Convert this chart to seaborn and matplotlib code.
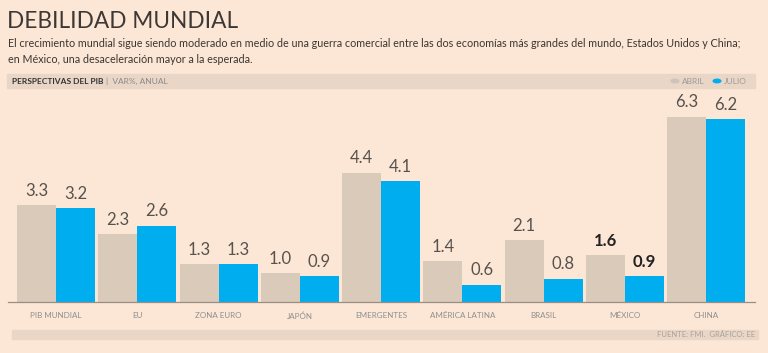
import pandas as pd
import matplotlib.pyplot as plt
import seaborn as sns

# GDP outlook data (var %, annual)
regiones = ['PIB MUNDIAL', 'EU', 'ZONA EURO', 'JAPÓN', 'EMERGENTES',
            'AMÉRICA LATINA', 'BRASIL', 'MÉXICO', 'CHINA']
abril = [3.3, 2.3, 1.3, 1.0, 4.4, 1.4, 2.1, 1.6, 6.3]
julio = [3.2, 2.6, 1.3, 0.9, 4.1, 0.6, 0.8, 0.9, 6.2]
series = ['ABRIL', 'JULIO']

BG = '#FCE7D6'
C_ABRIL = '#D9CABA'
C_JULIO = '#00ADEF'
BAND = '#EAD6C6'
FONT = ['Lato', 'DejaVu Sans']


def build_df():
    df = pd.DataFrame({'region': regiones * 2,
                       'serie': ['ABRIL'] * len(abril) + ['JULIO'] * len(julio),
                       'valor': abril + julio})
    return df


def plot_chart(df):
    plt.rcParams['font.family'] = FONT
    fig = plt.figure(figsize=(7.68, 3.53), dpi=100, facecolor=BG)
    ax = fig.add_axes([8 / 768, 1 - 302.3 / 353, 747 / 768, 202 / 353])
    ax.set_facecolor(BG)

    sns.barplot(data=df, x='region', y='valor', hue='serie', order=regiones,
                hue_order=series, palette=[C_ABRIL, C_JULIO], width=0.96,
                gap=0, saturation=1, legend=False, ax=ax)

    # value labels above each bar
    for container, vals in zip(ax.containers, [abril, julio]):
        for bar, v, reg in zip(container, vals, regiones):
            bold = reg == 'MÉXICO'
            ax.annotate(f'{v:.1f}', (bar.get_x() + bar.get_width() / 2, bar.get_height()),
                        xytext=(0, 4.5), textcoords='offset points', ha='center', va='bottom',
                        fontsize=12, color='#222222' if bold else '#58524C',
                        fontweight='bold' if bold else 'normal')

    ax.set_xlim(-0.59, 8.6)
    ax.set_ylim(0, 6.85)
    ax.set_xlabel('')
    ax.set_ylabel('')
    ax.set_yticks([])
    ax.tick_params(axis='x', length=0, pad=7, labelsize=5.8, labelcolor='#8E8E8E')
    for s in ['top', 'right', 'left']:
        ax.spines[s].set_visible(False)
    ax.spines['bottom'].set_color('#9A8E84')
    ax.spines['bottom'].set_linewidth(0.9)

    # title and subtitle
    fig.text(7 / 768, 1 - 11.5 / 353, 'DEBILIDAD MUNDIAL', fontsize=16.3, fontweight='normal',
             color='#3E3835', va='top', ha='left')
    fig.text(8 / 768, 1 - 38 / 353,
             'El crecimiento mundial sigue siendo moderado en medio de una guerra comercial entre '
             'las dos economías más grandes del mundo, Estados Unidos y China;\n'
             'en México, una desaceleración mayor a la esperada.',
             fontsize=7.75, color='#3A3532', va='top', ha='left', linespacing=1.55)

    # header band
    fig.patches.append(plt.Rectangle((7 / 768, 1 - 88 / 353), 748 / 768, 14 / 353,
                                     transform=fig.transFigure, color=BAND, zorder=0))
    t = fig.text(12 / 768, 1 - 81 / 353, 'PERSPECTIVAS DEL PIB', fontsize=6, fontweight='bold',
                 color='#333333', va='center', ha='left')
    fig.canvas.draw()
    bb = t.get_window_extent()
    fig.text((bb.x1 + 3) / 768, 1 - 81 / 353, '|  VAR%, ANUAL', fontsize=6, color='#8A8A8A',
             va='center', ha='left')

    # legend
    for xc, lab, col in [(675, 'ABRIL', '#CFC3B8'), (717, 'JULIO', C_JULIO)]:
        fig.patches.append(plt.Circle((xc / 768, 1 - 81 / 353), 3.8 / 768,
                                      transform=fig.transFigure, color=col))
        fig.text((xc + 7) / 768, 1 - 81 / 353, lab, fontsize=6, color='#9A9A9A',
                 va='center', ha='left')

    # footer band
    fig.patches.append(plt.Rectangle((12 / 768, 1 - 339 / 353), 746 / 768, 9 / 353,
                                     transform=fig.transFigure, color=BAND, zorder=0))
    fig.text(755 / 768, 1 - 334.5 / 353, 'FUENTE: FMI.  GRÁFICO: EE', fontsize=5.5,
             color='#A8A29C', va='center', ha='right')

    fig.savefig('out.png', dpi=100, facecolor=BG)


def main():
    df = build_df()
    plot_chart(df)


if __name__ == "__main__":
    main()
